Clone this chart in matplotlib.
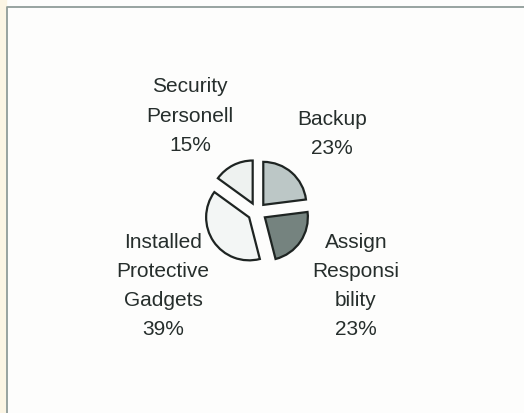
import matplotlib.pyplot as plt

plt.rcParams['font.family'] = ['Liberation Sans', 'DejaVu Sans']

categories = ['Backup', 'Assign\nResponsi\nbility', 'Installed\nProtective\nGadgets', 'Security\nPersonell']
shares = [23, 23, 39, 15]
slice_colors = ['#bcc7c6', '#75837f', '#f3f6f5', '#eef2f0']

# label anchor points in pixels (x right, y up)
label_xy = [(332, 280), (356, 128), (163, 128), (190, 298)]

fig = plt.figure(figsize=(5.24, 4.14), dpi=100)
fig.patch.set_facecolor('#fdfdfc')
ax = fig.add_axes([0, 0, 1, 1])

# faint cream strip and frame lines of the sheet
ax.axvspan(0, 6, color='#fbf5e4', zorder=0)
ax.plot([6.5, 6.5, 524], [0, 406.5, 406.5], color='#8f9c99', lw=1.3, zorder=1)

# explode is in data units here (pixels)
wedges, _ = ax.pie(shares, colors=slice_colors, startangle=90, counterclock=False,
                   center=(257, 201), radius=43, explode=[9.5] * 4,
                   wedgeprops=dict(edgecolor='#1e2422', linewidth=1.6))
ax.set_xlim(0, 524)
ax.set_ylim(0, 414)
ax.set_aspect('auto')
ax.axis('off')

for name, pct, (x, y) in zip(categories, shares, label_xy):
    ax.text(x, y, f'{name}\n{pct}%', ha='center', va='center', fontsize=15,
            color='#262e2c', linespacing=1.68)

fig.savefig('out.png', dpi=100, facecolor=fig.get_facecolor())
